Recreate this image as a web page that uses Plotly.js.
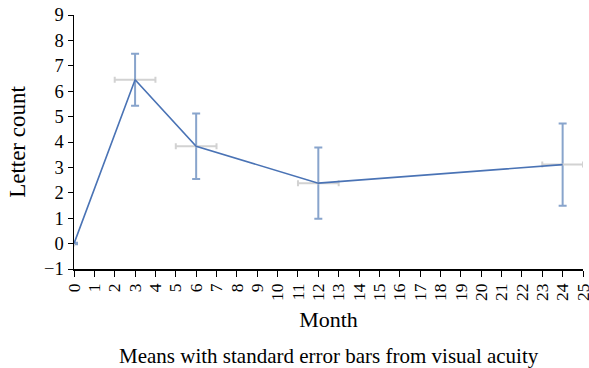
<!DOCTYPE html>
<html>
<head>
<meta charset="utf-8">
<script src="https://cdn.plot.ly/plotly-3.0.1.min.js"></script>
<style>html,body{margin:0;padding:0;background:#fff;}#chart{width:589px;height:368px;}</style>
</head>
<body>
<div id="chart"></div>
<script>
const months = [0, 3, 6, 12, 24];
const letterCount = [0, 6.45, 3.83, 2.38, 3.11];
const seLetter = [0.03, 1.02, 1.29, 1.4, 1.62];
const seMonth = [0, 1, 1, 1, 1];
const xTickVals = Array.from({length: 26}, (_, i) => i);
const yTickVals = [-1, 0, 1, 2, 3, 4, 5, 6, 7, 8, 9];
const yTickText = ['\u22121', '0', '1', '2', '3', '4', '5', '6', '7', '8', '9'];

const font = 'Liberation Serif, Times New Roman, serif';

Plotly.newPlot('chart', [{
  x: months,
  y: letterCount,
  type: 'scatter',
  mode: 'lines',
  line: {color: '#4a73b5', width: 1.6},
  error_x: {type: 'data', array: seMonth, visible: true, color: '#d2d2d2', thickness: 2, width: 3},
  error_y: {type: 'data', array: seLetter, visible: true, color: '#88a4cc', thickness: 2, width: 4},
  hoverinfo: 'none'
}], {
  width: 589, height: 368,
  margin: {l: 74, r: 6, t: 15, b: 99},
  paper_bgcolor: '#fff', plot_bgcolor: '#fff',
  showlegend: false,
  font: {family: font, color: '#000', size: 18},
  xaxis: {
    range: [0, 25], tickvals: xTickVals, ticktext: xTickVals.map(String),
    tickangle: -90, ticks: 'outside', ticklen: 6, tickcolor: '#000', tickwidth: 1,
    ticklabeloverflow: 'allow',
    showline: true, linecolor: '#000', linewidth: 1.5, showgrid: false, zeroline: false,
    tickfont: {family: font, size: 17.5},
    title: {text: 'Month', font: {family: font, size: 22}, standoff: 11}
  },
  yaxis: {
    range: [-1, 9], tickvals: yTickVals, ticktext: yTickText,
    ticks: 'outside', ticklen: 5, tickcolor: '#000', tickwidth: 1,
    showline: true, linecolor: '#000', linewidth: 1.5, showgrid: false, zeroline: false,
    tickfont: {family: font, size: 18.5},
    title: {text: 'Letter count', font: {family: font, size: 23}, standoff: 12}
  },
  annotations: [{
    text: 'Means with standard error bars from visual acuity',
    xref: 'paper', yref: 'paper', x: 0.5, y: 0, yshift: -73,
    xanchor: 'center', yanchor: 'top', showarrow: false,
    font: {family: font, size: 21, color: '#000'}
  }]
}, {displayModeBar: false, staticPlot: true});
</script>
</body>
</html>
